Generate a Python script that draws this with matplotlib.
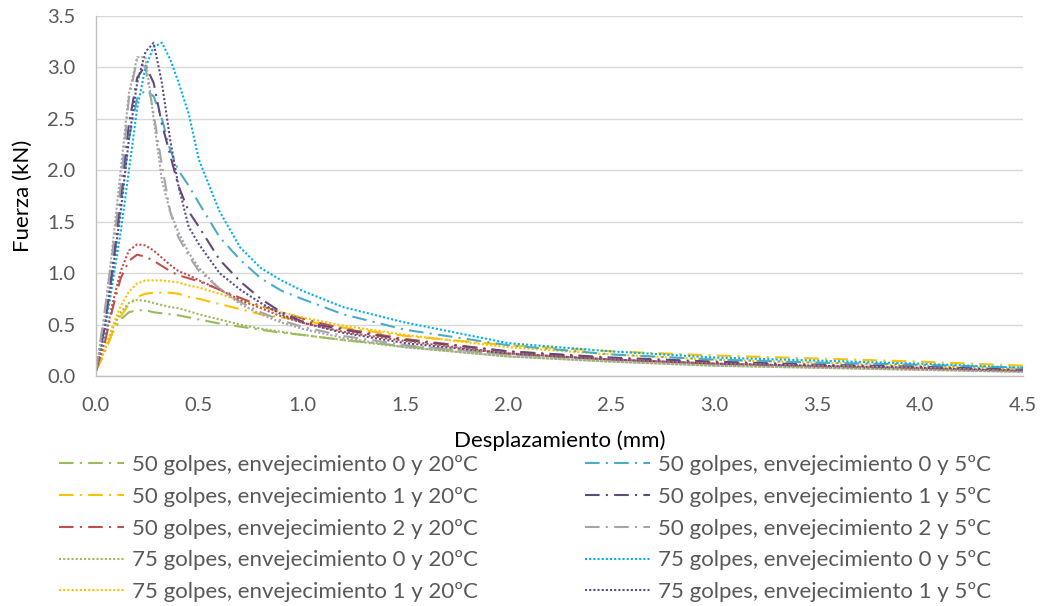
import matplotlib.pyplot as plt
import numpy as np

plt.rcParams['font.family'] = ['Lato', 'DejaVu Sans']

# desplazamiento (mm), common grid for all curves
desp = [0, 0.04, 0.08, 0.12, 0.16, 0.2, 0.24, 0.28, 0.32, 0.36, 0.4, 0.45, 0.5,
        0.6, 0.7, 0.8, 0.9, 1.0, 1.2, 1.5, 2.0, 2.5, 3.0, 3.5, 4.0, 4.5]

# fuerza (kN)
g50_e0_20 = [0.05, 0.22, 0.42, 0.55, 0.62, 0.64, 0.64, 0.62, 0.61, 0.60, 0.59, 0.57, 0.55,
             0.51, 0.48, 0.45, 0.42, 0.40, 0.35, 0.29, 0.21, 0.16, 0.12, 0.09, 0.07, 0.05]
g50_e1_20 = [0.05, 0.22, 0.42, 0.58, 0.70, 0.77, 0.80, 0.81, 0.81, 0.81, 0.80, 0.77, 0.75,
             0.70, 0.65, 0.60, 0.57, 0.54, 0.47, 0.39, 0.30, 0.24, 0.20, 0.17, 0.14, 0.10]
g50_e2_20 = [0.05, 0.30, 0.65, 0.95, 1.12, 1.18, 1.16, 1.12, 1.07, 1.02, 0.98, 0.95, 0.92,
             0.84, 0.76, 0.68, 0.62, 0.56, 0.46, 0.36, 0.24, 0.17, 0.13, 0.10, 0.08, 0.05]
g75_e0_20 = [0.05, 0.24, 0.46, 0.62, 0.71, 0.74, 0.73, 0.71, 0.69, 0.67, 0.66, 0.63, 0.60,
             0.55, 0.50, 0.46, 0.43, 0.40, 0.35, 0.28, 0.19, 0.14, 0.10, 0.08, 0.06, 0.04]
g75_e1_20 = [0.05, 0.24, 0.48, 0.68, 0.82, 0.90, 0.93, 0.93, 0.93, 0.92, 0.91, 0.88, 0.86,
             0.80, 0.73, 0.67, 0.62, 0.57, 0.49, 0.40, 0.28, 0.21, 0.16, 0.13, 0.10, 0.07]
g75_e2_20 = [0.05, 0.32, 0.70, 1.02, 1.22, 1.28, 1.27, 1.22, 1.15, 1.08, 1.02, 0.98, 0.93,
             0.84, 0.74, 0.66, 0.58, 0.52, 0.43, 0.34, 0.22, 0.16, 0.12, 0.09, 0.07, 0.05]
g50_e0_5 = [0.05, 0.45, 1.00, 1.65, 2.30, 2.70, 2.78, 2.72, 2.50, 2.20, 2.00, 1.85, 1.68,
            1.35, 1.13, 0.95, 0.83, 0.75, 0.60, 0.45, 0.30, 0.21, 0.16, 0.13, 0.11, 0.08]
g50_e1_5 = [0.05, 0.45, 1.05, 1.75, 2.45, 2.90, 3.02, 2.85, 2.45, 2.15, 1.85, 1.60, 1.45,
            1.13, 0.92, 0.75, 0.62, 0.53, 0.45, 0.35, 0.24, 0.18, 0.14, 0.11, 0.09, 0.06]
g50_e2_5 = [0.05, 0.60, 1.20, 1.85, 2.70, 3.08, 3.00, 2.55, 2.05, 1.60, 1.35, 1.17, 1.02,
            0.85, 0.72, 0.62, 0.54, 0.48, 0.39, 0.30, 0.21, 0.16, 0.12, 0.10, 0.08, 0.05]
g75_e0_5 = [0.05, 0.40, 0.90, 1.40, 2.00, 2.60, 3.00, 3.20, 3.24, 3.08, 2.86, 2.55, 2.10,
            1.60, 1.25, 1.05, 0.93, 0.83, 0.67, 0.52, 0.32, 0.24, 0.18, 0.15, 0.12, 0.08]
g75_e1_5 = [0.05, 0.45, 1.00, 1.60, 2.30, 2.85, 3.15, 3.24, 2.85, 2.30, 1.85, 1.45, 1.28,
            1.00, 0.84, 0.71, 0.60, 0.52, 0.42, 0.32, 0.22, 0.16, 0.12, 0.10, 0.08, 0.05]
g75_e2_5 = [0.05, 0.55, 1.25, 2.00, 2.75, 3.10, 3.10, 2.50, 1.90, 1.60, 1.40, 1.20, 1.05,
            0.85, 0.70, 0.60, 0.52, 0.46, 0.37, 0.28, 0.19, 0.14, 0.10, 0.08, 0.06, 0.04]

dashdot = (0, (7, 3, 1, 3))
dotted = (0, (1, 1))

series = [
    ('50 golpes, envejecimiento 0 y 20ºC', g50_e0_20, '#9BBB59', dashdot),
    ('50 golpes, envejecimiento 1 y 20ºC', g50_e1_20, '#FFC000', dashdot),
    ('50 golpes, envejecimiento 2 y 20ºC', g50_e2_20, '#C0504D', dashdot),
    ('75 golpes, envejecimiento 0 y 20ºC', g75_e0_20, '#9BBB59', dotted),
    ('75 golpes, envejecimiento 1 y 20ºC', g75_e1_20, '#FFC000', dotted),
    ('50 golpes, envejecimiento 0 y 5ºC', g50_e0_5, '#4BACC6', dashdot),
    ('50 golpes, envejecimiento 1 y 5ºC', g50_e1_5, '#604A7B', dashdot),
    ('50 golpes, envejecimiento 2 y 5ºC', g50_e2_5, '#A5A5A5', dashdot),
    ('75 golpes, envejecimiento 0 y 5ºC', g75_e0_5, '#00B0F0', dotted),
    ('75 golpes, envejecimiento 1 y 5ºC', g75_e1_5, '#5B4A86', dotted),
]
extra = [
    ('75 golpes, envejecimiento 2 y 20ºC', g75_e2_20, '#C0504D', dotted),
    ('75 golpes, envejecimiento 2 y 5ºC', g75_e2_5, '#A5A5A5', dotted),
]

fig = plt.figure(figsize=(10.42, 6.06), dpi=100)
ax = fig.add_axes([0.0921, 0.3795, 0.8897, 0.5941])

handles = []
for name, vals, col, ls in series:
    h, = ax.plot(desp, vals, color=col, linestyle=ls, linewidth=1.5, label=name)
    handles.append(h)
for name, vals, col, ls in extra:
    ax.plot(desp, vals, color=col, linestyle=ls, linewidth=1.5)

ax.set_xlim(0, 4.5)
ax.set_ylim(0, 3.5)
ax.set_xticks(np.arange(0, 4.51, 0.5))
ax.set_yticks(np.arange(0, 3.51, 0.5))
ax.xaxis.set_major_formatter(plt.FormatStrFormatter('%.1f'))
ax.yaxis.set_major_formatter(plt.FormatStrFormatter('%.1f'))
ax.grid(axis='y', color='#D9D9D9', linewidth=1)
ax.set_axisbelow(True)
for s in ['top', 'right']:
    ax.spines[s].set_visible(False)
for s in ['left', 'bottom']:
    ax.spines[s].set_color('#BFBFBF')
    ax.spines[s].set_linewidth(1)
ax.tick_params(axis='x', length=0, labelsize=14.5, colors='#595959', pad=15)
ax.tick_params(axis='y', length=0, labelsize=14.5, colors='#595959', pad=15)

ax.set_xlabel('Desplazamiento (mm)', fontsize=16, color='black', labelpad=12)
ax.set_ylabel('Fuerza (kN)', fontsize=16, color='black', labelpad=10)

leg = fig.legend(handles=handles, loc='upper left', bbox_to_anchor=(0.057, 0.249),
                 ncol=2, frameon=False, fontsize=16, handlelength=2.9,
                 columnspacing=4.85, labelspacing=0.53, handletextpad=0.35,
                 borderaxespad=0, borderpad=0)
for t in leg.get_texts():
    t.set_color('#595959')

plt.savefig('out.png', dpi=100)
